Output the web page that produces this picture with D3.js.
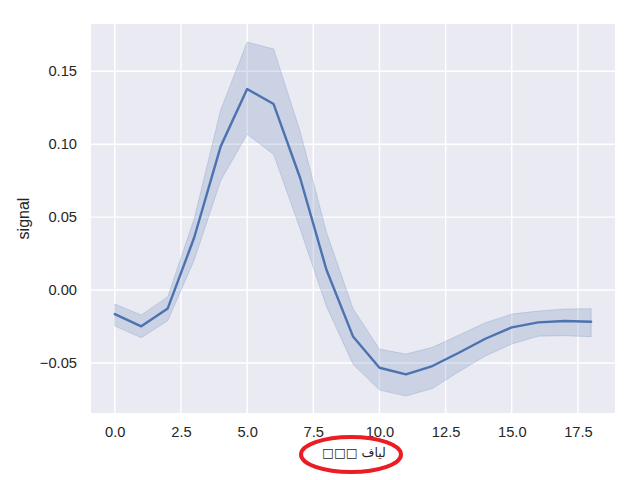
<!DOCTYPE html>
<meta charset="utf-8">
<style>
    body { margin: 0; background: #fff; }
    .tick text { font-family: "Liberation Sans", Arial, sans-serif; font-size: 14.7px; fill: #262626; }
    .grid line { stroke: #fff; stroke-width: 1.4; }
</style>
<svg width="640" height="480"></svg>
<script src="https://cdnjs.cloudflare.com/ajax/libs/d3/7.8.5/d3.min.js"></script>
<script>

    var timepoints = [0, 1, 2, 3, 4, 5, 6, 7, 8, 9, 10, 11, 12, 13, 14, 15, 16, 17, 18];
    var signal_mean = [-0.0165, -0.0249, -0.0126, 0.0360, 0.0985, 0.1378, 0.1275, 0.0770, 0.0137, -0.0318,
                       -0.0533, -0.0578, -0.0521, -0.0430, -0.0334, -0.0256, -0.0222, -0.0212, -0.0217];
    var ci_upper = [-0.0096, -0.0171, -0.0046, 0.0490, 0.1235, 0.1700, 0.1653, 0.1090, 0.0395, -0.0126,
                    -0.0405, -0.0439, -0.0393, -0.0309, -0.0224, -0.0165, -0.0144, -0.0130, -0.0128];
    var ci_lower = [-0.0247, -0.0327, -0.0210, 0.0205, 0.0750, 0.1068, 0.0930, 0.0420, -0.0114, -0.0508,
                    -0.0686, -0.0727, -0.0675, -0.0560, -0.0453, -0.0370, -0.0316, -0.0313, -0.0320];
    var x_ticks = [0, 2.5, 5, 7.5, 10, 12.5, 15, 17.5];
    var y_ticks = [-0.05, 0, 0.05, 0.10, 0.15];
    var x_label = "\u25A1\u25A1\u25A1 لياف";
    var y_label = "signal";

    var svg = d3.select("svg");

    var plotLeft = 91, plotRight = 615, plotTop = 24, plotBottom = 413;

    var x = d3.scaleLinear().domain([-0.9, 18.9]).range([plotLeft, plotRight]);
    var y = d3.scaleLinear().domain([-0.0843, 0.1824]).range([plotBottom, plotTop]);

    var data = timepoints.map(function(t, i) {
        return {t: t, m: signal_mean[i], lo: ci_lower[i], hi: ci_upper[i]};
    });

    svg.append("rect")
            .attr("x", plotLeft).attr("y", plotTop)
            .attr("width", plotRight - plotLeft).attr("height", plotBottom - plotTop)
            .attr("fill", "#eaeaf2");

    // grid
    var grid = svg.append("g").attr("class", "grid");
    grid.selectAll("line.v").data(x_ticks).enter().append("line")
            .attr("x1", function(d) { return x(d); }).attr("x2", function(d) { return x(d); })
            .attr("y1", plotTop).attr("y2", plotBottom);
    grid.selectAll("line.h").data(y_ticks).enter().append("line")
            .attr("y1", function(d) { return y(d); }).attr("y2", function(d) { return y(d); })
            .attr("x1", plotLeft).attr("x2", plotRight);

    // axes
    svg.append("g")
            .attr("transform", "translate(0," + plotBottom + ")")
            .call(d3.axisBottom(x).tickValues(x_ticks).tickFormat(d3.format(".1f")).tickSize(0).tickPadding(14));
    svg.append("g")
            .attr("transform", "translate(" + plotLeft + ",0)")
            .call(d3.axisLeft(y).tickValues(y_ticks).tickFormat(d3.format(".2f")).tickSize(0).tickPadding(14));
    svg.selectAll(".domain").remove();

    // ci band
    var area = d3.area()
            .x(function(d) { return x(d.t); })
            .y0(function(d) { return y(d.lo); })
            .y1(function(d) { return y(d.hi); });
    svg.append("path")
            .datum(data)
            .attr("d", area)
            .attr("fill", "#4c72b0")
            .attr("fill-opacity", 0.2)
            .attr("stroke", "#4c72b0")
            .attr("stroke-opacity", 0.2)
            .attr("stroke-width", 1);

    var line = d3.line()
            .x(function(d) { return x(d.t); })
            .y(function(d) { return y(d.m); });
    svg.append("path")
            .datum(data)
            .attr("d", line)
            .attr("fill", "none")
            .attr("stroke", "#4c72b0")
            .attr("stroke-width", 2.4)
            .attr("stroke-linejoin", "round")
            .attr("stroke-linecap", "round");

    // labels
    svg.append("text")
            .attr("transform", "translate(29," + ((plotTop + plotBottom) / 2) + ") rotate(-90)")
            .attr("text-anchor", "middle")
            .style("font-family", "Liberation Sans, Arial, sans-serif")
            .style("font-size", "16px")
            .attr("fill", "#262626")
            .text(y_label);

    svg.append("text")
            .attr("x", 354)
            .attr("y", 457)
            .attr("text-anchor", "middle")
            .style("font-family", "DejaVu Sans, sans-serif")
            .style("font-size", "12.5px")
            .attr("fill", "#262626")
            .text(x_label);

    svg.append("ellipse")
            .attr("cx", 351).attr("cy", 454.5)
            .attr("rx", 50).attr("ry", 17.5)
            .attr("fill", "none")
            .attr("stroke", "#ec1c24")
            .attr("stroke-width", 4);

</script>
